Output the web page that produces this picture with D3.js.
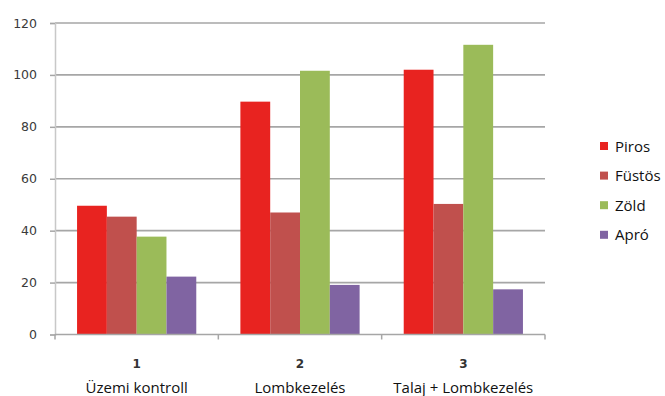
<!DOCTYPE html>
<html><head><meta charset="utf-8">
<script src="https://cdn.jsdelivr.net/npm/d3@7"></script>
<style>body{margin:0;background:#fff}</style>
</head><body>
<svg id="c" width="665" height="396"></svg>
<script>
const categories = ["1", "2", "3"];
const categoryNames = ["Üzemi kontroll", "Lombkezelés", "Talaj + Lombkezelés"];
const seriesNames = ["Piros", "Füstös", "Zöld", "Apró"];
const piros = [49.6, 89.7, 102];
const fustos = [45.4, 47, 50.3];
const zold = [37.7, 101.6, 111.6];
const apro = [22.3, 19.1, 17.4];
const yTicks = [0, 20, 40, 60, 80, 100, 120];
const colors = ["#E82320", "#C0504D", "#9BBB59", "#8064A2"];

const series = [piros, fustos, zold, apro];
const svg = d3.select("#c");
const mLeft = 55, mRight = 545, mTop = 23, mBottom = 334.5;

const x = d3.scaleBand().domain(categories).range([mLeft, mRight]).paddingInner(0).paddingOuter(0);
const xs = d3.scaleBand().domain(seriesNames).range([0, x.bandwidth()]).paddingOuter(0.74).paddingInner(0);
const y = d3.scaleLinear().domain([0, 120]).range([mBottom, mTop]);

// gridlines
svg.append("g").selectAll("line").data(yTicks.filter(d => d > 0)).join("line")
  .attr("x1", mLeft).attr("x2", mRight)
  .attr("y1", d => y(d)).attr("y2", d => y(d))
  .attr("stroke", "#a6a6a6").attr("stroke-width", 1.6);

// y axis
const yAxis = d3.axisLeft(y).tickValues(yTicks).tickSize(5).tickPadding(13);
const gy = svg.append("g").attr("transform", `translate(${mLeft},0)`).call(yAxis);
gy.select(".domain").attr("stroke", "#c8c8c8").attr("stroke-width", 1.5);
gy.selectAll(".tick line").attr("stroke", "#a6a6a6").attr("stroke-width", 1.5);
gy.selectAll(".tick text").attr("fill", "#3a3a3a").style("font-family", "DejaVu Sans").style("font-size", "12.5px");

// bars
const g = svg.append("g");
categories.forEach((c, i) => {
  seriesNames.forEach((s, j) => {
    g.append("rect")
      .attr("x", x(c) + xs(s))
      .attr("width", xs.bandwidth())
      .attr("y", y(series[j][i]))
      .attr("height", y(0) - y(series[j][i]))
      .attr("fill", colors[j]);
  });
});

// x axis
const gx = svg.append("g").attr("transform", `translate(0,${mBottom})`);
gx.append("line").attr("x1", mLeft).attr("x2", mRight).attr("stroke", "#a6a6a6").attr("stroke-width", 1.6);
const bounds = [mLeft, ...categories.map(c => x(c) + x.bandwidth())];
gx.selectAll(".tk").data(bounds).join("line").attr("class", "tk")
  .attr("x1", d => d).attr("x2", d => d).attr("y1", 0).attr("y2", 5)
  .attr("stroke", "#a6a6a6").attr("stroke-width", 1.5);
gx.selectAll(".num").data(categories).join("text").attr("class", "num")
  .attr("x", d => x(d) + x.bandwidth() / 2).attr("y", 33)
  .attr("text-anchor", "middle").attr("fill", "#333")
  .style("font-family", "DejaVu Sans").style("font-weight", "bold").style("font-size", "12px").text(d => d);
gx.selectAll(".nm").data(categoryNames).join("text").attr("class", "nm")
  .attr("x", (d, i) => x(categories[i]) + x.bandwidth() / 2).attr("y", 58)
  .attr("text-anchor", "middle").attr("fill", "#111")
  .style("font-family", "Open Sans").style("font-size", "15px").text(d => d);

// legend
const lg = svg.append("g").attr("transform", "translate(600,146)");
const li = lg.selectAll("g").data(seriesNames).join("g").attr("transform", (d, i) => `translate(0,${i * 29.6})`);
li.append("rect").attr("x", 0).attr("y", -4).attr("width", 8).attr("height", 8).attr("fill", (d, i) => colors[i]);
li.append("text").attr("x", 15).attr("y", 5.5).attr("fill", "#111")
  .style("font-family", "Open Sans").style("font-size", "15px").text(d => d);
</script>
</body></html>
